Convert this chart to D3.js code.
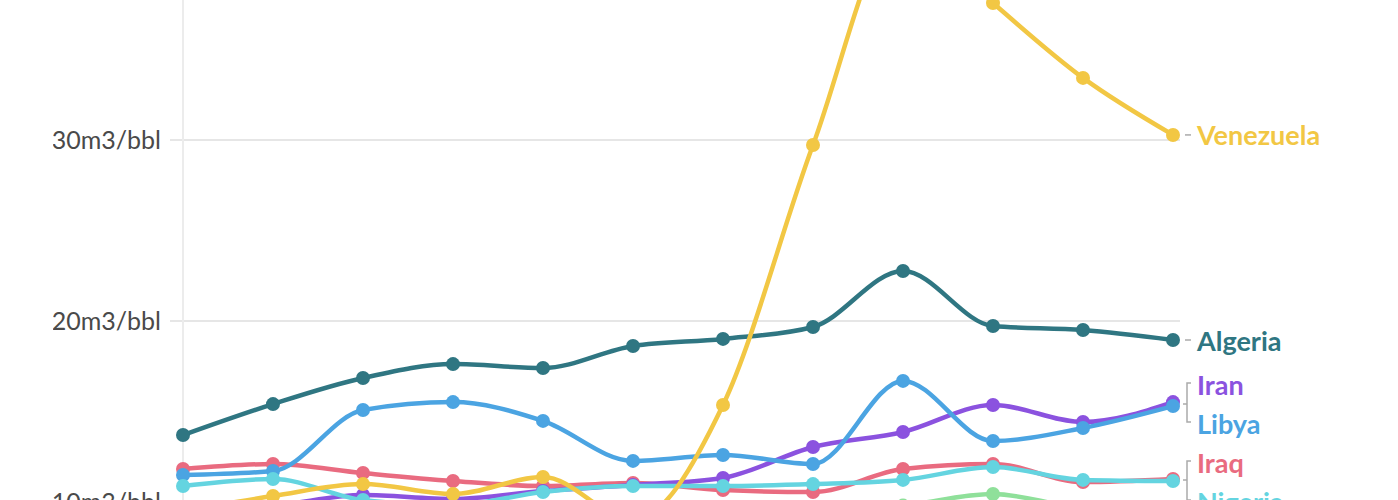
<!DOCTYPE html>
<html><head><meta charset="utf-8">
<script src="https://cdn.jsdelivr.net/npm/d3@7"></script>
<style>
html,body{margin:0;padding:0;background:#fff;overflow:hidden;}
svg{display:block;}
</style></head>
<body>
<svg id="c" width="1398" height="500"></svg>
<script>
const categories = ["2008","2009","2010","2011","2012","2013","2014","2015","2016","2017","2018","2019"];
const seriesNames = ["Angola","Iraq","Iran","Libya","Nigeria","Algeria","Venezuela"];
const angola    = [8.5, 8.6, 8.8, 8.9, 9.0, 9.2, 9.3, 9.4, 9.8, 10.44, 9.7, 9.6];
const iraq      = [11.82, 12.10, 11.60, 11.16, 10.88, 11.05, 10.66, 10.55, 11.82, 12.10, 11.10, 11.27];
const iran      = [9.6, 9.8, 10.39, 10.17, 10.61, 10.94, 11.33, 13.04, 13.87, 15.36, 14.42, 15.52];
const libya     = [11.49, 11.71, 15.08, 15.52, 14.48, 12.27, 12.60, 12.10, 16.69, 13.37, 14.09, 15.30];
const nigeria   = [10.88, 11.27, 10.11, 9.83, 10.55, 10.88, 10.88, 10.99, 11.22, 11.93, 11.22, 11.16];
const algeria   = [13.70, 15.41, 16.85, 17.62, 17.40, 18.62, 19.01, 19.67, 22.76, 19.72, 19.50, 18.95];
const venezuela = [9.5, 10.33, 10.99, 10.44, 11.38, 9.0, 15.36, 29.72, 42.0, 37.57, 33.43, 30.28];
const yTicks = [10, 20, 30];
const colors = ["#8fe09a","#e96b80","#8b52df","#4ba4e2","#64d4e0","#2f7682","#f2c744"];

const values = [angola, iraq, iran, libya, nigeria, algeria, venezuela];
const series = seriesNames.map((n,i)=>({name:n, values:values[i], color:colors[i]}));

const svg = d3.select("#c");
const x = d3.scalePoint().domain(categories).range([183, 1173]);
const y = d3.scaleLinear().domain([10, 30]).range([502, 140]);

const defs = svg.append("defs");
defs.append("clipPath").attr("id","lc").append("rect").attr("x",53).attr("y",-100).attr("width",1400).attr("height",800);

// grid
const grid = svg.append("g");
grid.selectAll("line").data(yTicks).join("line")
  .attr("x1",170).attr("x2",1180)
  .attr("y1",d=>y(d)).attr("y2",d=>y(d))
  .attr("stroke","#e6e6e6").attr("stroke-width",2);
svg.append("line").attr("x1",183).attr("x2",183).attr("y1",-10).attr("y2",510)
  .attr("stroke","#ececec").attr("stroke-width",2);

// y axis labels
const ax = svg.append("g").attr("clip-path","url(#lc)");
ax.selectAll("text").data(yTicks).join("text")
  .attr("x",161).attr("y",d=>y(d)).attr("dy","0.35em")
  .attr("text-anchor","end")
  .attr("font-family","Lato, 'Open Sans', sans-serif")
  .attr("font-size",25).attr("fill","#4a4a4a")
  .text(d=>d+"m3/bbl");

const line = d3.line().x((d,i)=>x(categories[i])).y(d=>y(d)).curve(d3.curveMonotoneX);

const lines = svg.append("g");
series.forEach(s=>{
  const g = lines.append("g");
  g.append("path").attr("d",line(s.values)).attr("fill","none")
    .attr("stroke",s.color).attr("stroke-width",4.5).attr("stroke-linejoin","round");
  g.selectAll("circle").data(s.values).join("circle")
    .attr("cx",(d,i)=>x(categories[i])).attr("cy",d=>y(d)).attr("r",7)
    .attr("fill",s.color);
});

// labels
const lab = svg.append("g");
const lx = 1197;
const endY = s=>y(s.values[s.values.length-1]);
const font = "Lato, 'Open Sans', sans-serif";
function label(s, ly){
  lab.append("text").attr("x",lx).attr("y",ly).attr("dy","0.35em")
    .attr("font-family",font).attr("font-weight",700).attr("font-size",27)
    .attr("fill",s.color).text(s.name);
}
function dash(ly){
  lab.append("line").attr("x1",1185).attr("x2",1191).attr("y1",ly).attr("y2",ly)
    .attr("stroke","#aaa").attr("stroke-width",1.5);
}
function bracket(y1, y2, ym){
  lab.append("path").attr("d",`M1191,${y1} H1187 V${y2} H1191 M1187,${ym} H1183`)
    .attr("fill","none").attr("stroke","#aaa").attr("stroke-width",1.5);
}
const byName = Object.fromEntries(series.map(s=>[s.name,s]));
label(byName["Venezuela"], endY(byName["Venezuela"])+1);
dash(endY(byName["Venezuela"]));
label(byName["Algeria"], endY(byName["Algeria"])+2);
dash(endY(byName["Algeria"]));
const iranY = 386, libyaY = 425;
label(byName["Iran"], iranY); label(byName["Libya"], libyaY);
bracket(iranY-3, libyaY-3, (endY(byName["Iran"])+endY(byName["Libya"]))/2);
const iraqY = 464, nigY = 503;
label(byName["Iraq"], iraqY); label(byName["Nigeria"], nigY);
bracket(iraqY-3, nigY-3, (endY(byName["Iraq"])+endY(byName["Nigeria"]))/2);
</script>
</body></html>
